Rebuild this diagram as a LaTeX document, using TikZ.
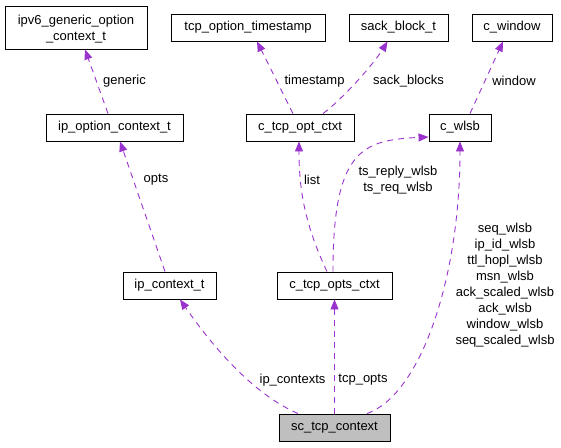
\documentclass[tikz,border=0pt]{standalone}
\usepackage{fontspec}
\setmainfont{Liberation Sans}
\usetikzlibrary{arrows.meta}
\definecolor{edgepurple}{HTML}{9A32CD}
\definecolor{boxgray}{HTML}{BFBFBF}
\tikzset{
  cls/.style={draw=black, line width=0.9pt, inner sep=0pt, minimum height=27pt,
    font=\fontsize{13}{16}\selectfont, text height=9.3pt, text depth=2.7pt, align=center},
  lbl/.style={inner sep=0pt, font=\fontsize{13}{16}\selectfont, align=center},
  uses/.style={draw=edgepurple, line width=0.9pt, dash pattern=on 6pt off 5pt,
    -{Triangle[length=10pt,width=8pt,fill=edgepurple]}}
}
\begin{document}
\begin{tikzpicture}[x=1pt,y=-1pt]
\useasboundingbox (0,0) rectangle (561,447);
% classes
\node[cls, minimum width=142pt, minimum height=43pt, text height=, text depth=0pt] (ipv6) at (76,27.5) {ipv6\_generic\_option\\\_context\_t};
\node[cls, minimum width=154pt] (tcpts) at (248,27.5) {tcp\_option\_timestamp};
\node[cls, minimum width=99pt] (sack) at (398.5,27.5) {sack\_block\_t};
\node[cls, minimum width=80pt] (cwin) at (512,27.5) {c\_window};
\node[cls, minimum width=137pt] (ipoc) at (114.5,127.5) {ip\_option\_context\_t};
\node[cls, minimum width=108pt] (opt) at (300,127.5) {c\_tcp\_opt\_ctxt};
\node[cls, minimum width=62pt] (wlsb) at (460,127.5) {c\_wlsb};
\node[cls, minimum width=93pt] (ipctx) at (169.5,285.5) {ip\_context\_t};
\node[cls, minimum width=115pt] (copts) at (334.5,285.5) {c\_tcp\_opts\_ctxt};
\node[cls, minimum width=111pt, fill=boxgray] (sc) at (334.5,427.5) {sc\_tcp\_context};
% edges
\draw[uses] ([xshift=-6.5pt]ipoc.north) -- ([xshift=9pt]ipv6.south);
\draw[uses] ([xshift=-4.5pt]ipctx.north) -- ([xshift=5.5pt]ipoc.south);
\draw[uses] ([xshift=-7pt]opt.north) -- ([xshift=9pt]tcpts.south);
\draw[uses] ([xshift=23pt]opt.north) .. controls (345,97) and (375,62) .. ([xshift=-11pt]sack.south);
\draw[uses] ([xshift=10pt]wlsb.north) -- ([xshift=-9pt]cwin.south);
\draw[uses] ([xshift=-7.5pt]copts.north) .. controls (305,225) and (299,190) .. ([xshift=-1pt]opt.south);
\draw[uses] ([xshift=-1.5pt]copts.north) .. controls (333,150) and (362,140) .. ([yshift=-9.5pt]wlsb.west);
\draw[uses] ([xshift=-36.5pt]sc.north) .. controls (255,395) and (215,350) .. ([xshift=10.5pt]ipctx.south);
\draw[uses] (sc.north) -- (copts.south);
\draw[uses] ([xshift=32.5pt]sc.north) .. controls (420,395) and (460,280) .. (wlsb.south);
% labels
\node[lbl] (lgeneric) at (124.5,81) {generic};
\node[lbl] (lopts) at (156,180) {opts};
\node[lbl] (ltimestamp) at (314.5,81) {timestamp};
\node[lbl] (lsack) at (408.5,81) {sack\_blocks};
\node[lbl] (lwindow) at (514,81) {window};
\node[lbl] (llist) at (312,180) {list};
\node[lbl] (lts) at (398,180.5) {ts\_reply\_wlsb\\ts\_req\_wlsb};
\node[lbl] (lwlsb) at (505,284.7) {seq\_wlsb\\ip\_id\_wlsb\\ttl\_hopl\_wlsb\\msn\_wlsb\\ack\_scaled\_wlsb\\ack\_wlsb\\window\_wlsb\\seq\_scaled\_wlsb};
\node[lbl] (lipctx) at (292.5,380) {ip\_contexts};
\node[lbl] (ltcpopts) at (363,380) {tcp\_opts};
\end{tikzpicture}
\end{document}
